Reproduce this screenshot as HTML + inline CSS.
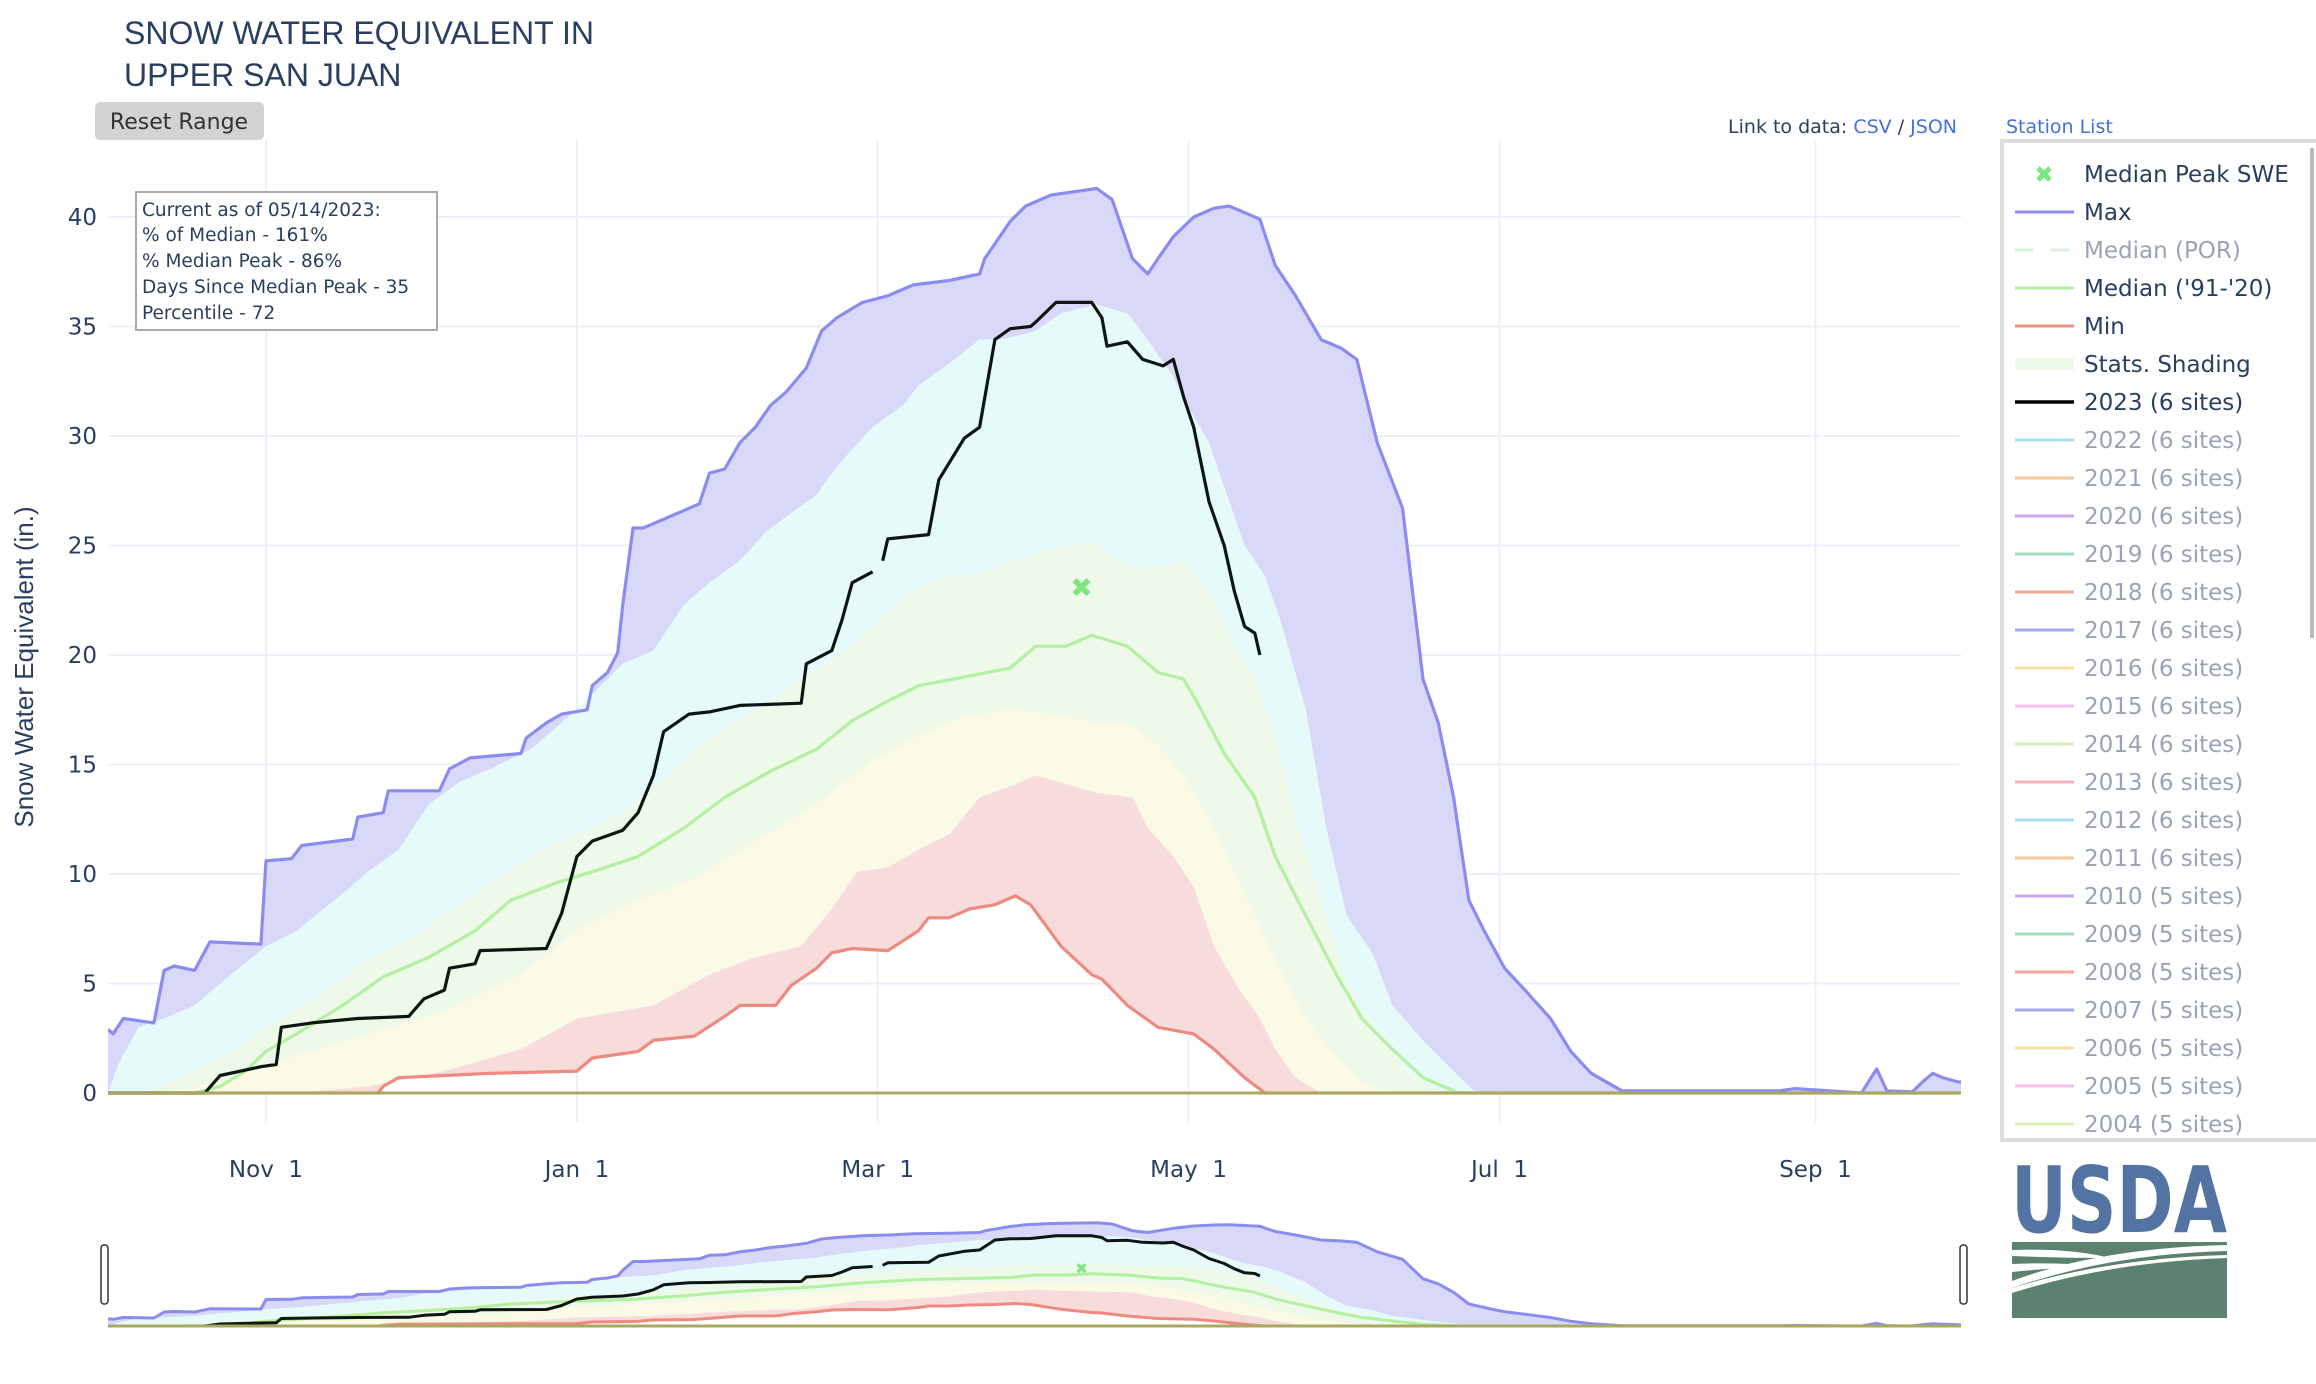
<!DOCTYPE html>
<html><head><meta charset="utf-8"><title>Snow Water Equivalent - Upper San Juan</title>
<style>
html,body{margin:0;padding:0;background:#fff;}
svg{display:block;}
text{font-family:"DejaVu Sans","Liberation Sans",sans-serif;}
.tl{font-family:"Liberation Sans",sans-serif;}
</style></head>
<body>
<svg id="chart" xmlns="http://www.w3.org/2000/svg" width="2316" height="1384" viewBox="0 0 2316 1384">
<defs><clipPath id="plotclip"><rect x="108" y="130" width="1853" height="1220"/></clipPath></defs>
<rect x="0" y="0" width="2316" height="1384" fill="#fff"/>
<text class="tl" x="124" y="44" font-size="32" fill="#2a3f5f">SNOW WATER EQUIVALENT IN</text>
<text class="tl" x="124" y="86" font-size="32" fill="#2a3f5f">UPPER SAN JUAN</text>
<g>
<rect x="95" y="102" width="169" height="38" rx="5" fill="#d3d3d3"/>
<text x="179" y="129" font-size="22" fill="#333" text-anchor="middle">Reset Range</text>
</g>
<text x="1957" y="133" font-size="19" text-anchor="end" fill="#2a3f5f">Link to data: <tspan fill="#4472d6">CSV</tspan> / <tspan fill="#4472d6">JSON</tspan></text>
<text x="2006" y="133" font-size="19" fill="#4472d6">Station List</text>
<g id="grid"></g>
<g clip-path="url(#plotclip)">
<g id="bands"></g>
<g id="lines"></g>
</g>
<g id="axes"></g>
<g id="slider"></g>
<text class="tl" transform="translate(33,667) rotate(-90)" font-size="26" fill="#2a3f5f" text-anchor="middle">Snow Water Equivalent (in.)</text>
<g>
<rect x="136" y="192" width="301" height="138" fill="#fff" stroke="#aaa" stroke-width="2"/>
<text x="142" y="216" font-size="18.5" fill="#2a3f5f">Current as of 05/14/2023:</text>
<text x="142" y="241" font-size="18.5" fill="#2a3f5f">% of Median - 161%</text>
<text x="142" y="267" font-size="18.5" fill="#2a3f5f">% Median Peak - 86%</text>
<text x="142" y="293" font-size="18.5" fill="#2a3f5f">Days Since Median Peak - 35</text>
<text x="142" y="319" font-size="18.5" fill="#2a3f5f">Percentile - 72</text>
</g>
<g id="legend">
<rect x="2002" y="141" width="320" height="999" fill="#fff" stroke="#ddd" stroke-width="4"/>
<rect x="2310" y="148" width="4" height="490" fill="#bbb"/>
</g>
<g>
<text x="2011" y="1232" font-family="Liberation Serif,serif" font-weight="bold" font-size="92" fill="#5373a3" textLength="216" lengthAdjust="spacingAndGlyphs">USDA</text>
<rect x="2012" y="1242" width="215" height="76" fill="#5b826e"/>
<path d="M2012,1250 Q2070,1248 2110,1258 Q2060,1258 2012,1256 Z" fill="#fff"/>
<path d="M2012,1264 Q2060,1262 2090,1266 Q2050,1268 2012,1272 Z" fill="#fff"/>
<path d="M2012,1281 Q2100,1248 2227,1245 L2227,1251 Q2110,1254 2012,1288 Z" fill="#fff"/>
<path d="M2012,1288 Q2110,1258 2227,1255 L2227,1258 Q2110,1262 2012,1293 Z" fill="#fff"/>
</g>
</svg>
<script>
// ---- data (day index from Oct 1, value inches) ----
const maxSeries = [[0,2.9],[1,2.7],[3,3.4],[9,3.2],[11,5.6],[13,5.8],[17,5.6],[20,6.9],[30,6.8],[31,10.6],[36,10.7],[38,11.3],[48,11.6],[49,12.6],[54,12.8],[55,13.8],[65,13.8],[67,14.8],[71,15.3],[81,15.5],[82,16.2],[86,16.9],[89,17.3],[94,17.5],[95,18.6],[98,19.2],[100,20.1],[101,22.3],[103,25.8],[105,25.8],[116,26.9],[118,28.3],[121,28.5],[124,29.7],[127,30.4],[130,31.4],[133,32],[137,33.1],[140,34.8],[143,35.4],[148,36.1],[153,36.4],[158,36.9],[165,37.1],[171,37.4],[172,38.1],[177,39.8],[180,40.5],[185,41.0],[194,41.3],[197,40.8],[201,38.1],[204,37.4],[206,38.1],[209,39.1],[213,40],[217,40.4],[220,40.5],[223,40.2],[226,39.9],[229,37.8],[233,36.4],[238,34.4],[242,34.0],[245,33.5],[249,29.7],[254,26.7],[258,18.9],[261,16.9],[264,13.5],[267,8.8],[270,7.4],[274,5.7],[278,4.7],[283,3.4],[287,1.9],[291,0.9],[297,0.1],[328,0.1],[331,0.2],[344,0],[347,1.1],[349,0.1],[354,0.05],[356,0.5],[358,0.9],[360,0.7],[363,0.5],[365,0.5]];
const p90Series = [[0,0],[2,1.3],[6,3.0],[11,3.4],[17,4],[22,5],[31,6.7],[37,7.4],[46,9.1],[51,10.1],[57,11.1],[63,13.2],[69,14.2],[75,14.8],[83,15.7],[89,16.9],[95,18.2],[101,19.6],[107,20.2],[113,22.3],[118,23.3],[124,24.3],[129,25.6],[133,26.3],[139,27.3],[142,28.3],[146,29.4],[150,30.4],[153,30.9],[156,31.4],[159,32.3],[165,33.3],[171,34.4],[175,34.4],[179,34.6],[182,34.8],[187,35.6],[194,36],[200,35.6],[203,34.7],[206,33.7],[209,32.7],[211,31.7],[216,29.7],[220,27],[223,25],[227,23.6],[230,21.6],[235,17.5],[239,12.1],[243,8.1],[248,6.4],[252,4],[258,2.4],[264,1.0],[268,0.1],[270,0],[365,0]];
const p70Series = [[0,0],[8,0.1],[17,1],[25,2],[34,3.4],[43,4.7],[51,6.1],[60,7.1],[66,8.1],[75,9.6],[83,10.8],[92,11.8],[101,12.8],[110,14.5],[118,16.2],[127,17.5],[136,18.9],[145,20.2],[150,21.3],[159,23.1],[165,23.6],[171,23.7],[179,24.4],[188,25],[194,25.1],[200,24],[206,24],[211,24.3],[216,22.9],[220,20.9],[225,18.9],[229,16.2],[233,12.5],[238,8.8],[243,5.1],[249,2.7],[255,1],[261,0.1],[264,0],[365,0]];
const p50Series = [[0,0],[14,0.1],[22,0.5],[37,1.7],[51,2.7],[66,3.7],[81,5.4],[92,7.4],[104,8.8],[115,9.8],[127,11.5],[139,13.2],[150,15.2],[159,16.3],[168,17.2],[177,17.5],[185,17.3],[194,16.9],[200,16.9],[206,15.9],[211,14.5],[217,12.1],[223,9.1],[229,6.1],[235,3.4],[241,1.7],[246,0.5],[252,0],[365,0]];
const p30Series = [[0,0],[37,0],[51,0.3],[66,1],[81,2],[92,3.4],[107,4],[118,5.4],[127,6.2],[136,6.7],[142,8.4],[147,10.1],[153,10.3],[159,11.1],[165,11.8],[171,13.5],[177,14],[182,14.5],[188,14.1],[194,13.7],[201,13.5],[204,12.1],[209,10.8],[213,9.4],[217,6.7],[222,4.7],[226,3.4],[229,2],[233,0.7],[238,0],[365,0]];
const minSeries = [[0,0],[53,0],[54,0.3],[57,0.7],[66,0.8],[75,0.9],[92,1.0],[95,1.6],[104,1.9],[107,2.4],[115,2.6],[121,3.5],[124,4.0],[131,4.0],[134,4.9],[139,5.7],[142,6.4],[146,6.6],[153,6.5],[159,7.4],[161,8.0],[165,8.0],[169,8.4],[174,8.6],[178,9.0],[181,8.6],[187,6.7],[193,5.4],[195,5.2],[200,4.0],[206,3.0],[213,2.7],[217,2.0],[223,0.7],[227,0],[365,0]];
const medianSeries = [[0,0],[17,0],[22,0.3],[27,1.0],[31,1.9],[37,2.7],[46,4],[54,5.3],[63,6.2],[72,7.4],[79,8.8],[88,9.6],[95,10.1],[104,10.8],[113,12.1],[121,13.5],[130,14.7],[139,15.7],[146,17],[153,17.9],[159,18.6],[168,19],[177,19.4],[182,20.4],[188,20.4],[193,20.9],[200,20.4],[206,19.2],[211,18.9],[214,17.7],[219,15.5],[225,13.5],[229,10.8],[235,8.1],[241,5.4],[246,3.4],[252,2.0],[258,0.7],[265,0],[365,0]];
const wy2023Series = [[0,0],[19,0],[22,0.8],[30,1.2],[33,1.3],[34,3.0],[40,3.2],[49,3.4],[59,3.5],[62,4.3],[66,4.7],[67,5.7],[72,5.9],[73,6.5],[86,6.6],[89,8.2],[92,10.8],[95,11.5],[101,12],[104,12.8],[107,14.5],[109,16.5],[114,17.3],[118,17.4],[124,17.7],[136,17.8],[137,19.6],[142,20.2],[144,21.6],[146,23.3],[150,23.8],null,[152,24.3],[153,25.3],[161,25.5],[163,28],[168,29.9],[171,30.4],[174,34.4],[177,34.9],[181,35],[182,35.2],[186,36.1],[193,36.1],[195,35.4],[196,34.1],[200,34.3],[203,33.5],[207,33.2],[209,33.5],[211,31.8],[213,30.4],[216,27],[219,25],[221,22.9],[223,21.3],[225,21],[226,20]];
const medianPeak = [191, 23.1];
const yTicks = [0,5,10,15,20,25,30,35,40];
const xTickDays = [31,92,151,212,273,335];
const xTickLabels = ["Nov  1","Jan  1","Mar  1","May  1","Jul  1","Sep  1"];
const legendNames = ["Median Peak SWE","Max","Median (POR)","Median ('91-'20)","Min","Stats. Shading","2023 (6 sites)","2022 (6 sites)","2021 (6 sites)","2020 (6 sites)","2019 (6 sites)","2018 (6 sites)","2017 (6 sites)","2016 (6 sites)","2015 (6 sites)","2014 (6 sites)","2013 (6 sites)","2012 (6 sites)","2011 (6 sites)","2010 (5 sites)","2009 (5 sites)","2008 (5 sites)","2007 (5 sites)","2006 (5 sites)","2005 (5 sites)","2004 (5 sites)"];
const legendColors = ["#7ee67e","#8c8cf0","#d6f3d6","#b5f0a5","#ee9088","#eef9e9","#000000","#a8e0f0","#f6c8a0","#c8a8f0","#a0dcc0","#f0a898","#a8a8f0","#f8e0a0","#f8c0f0","#d8f0b8","#f8b0c0","#a8e0f0","#f6c8a0","#c8a8f0","#a0dcc0","#f0a898","#a8a8f0","#f8e0a0","#f8c0f0","#d8f0b8"];
const legendActive = [1,1,0,1,1,1,1,0,0,0,0,0,0,0,0,0,0,0,0,0,0,0,0,0,0,0];

// ---- axes ----
const NS="http://www.w3.org/2000/svg";
const X0=108, X1=1961, PXD=5.097;
const X = d => X0 + d*PXD;
const Y = v => 1093 - v*21.9;
const YS = v => 1326 - v*2.5;
function mk(tag, attrs, parent){const e=document.createElementNS(NS,tag);for(const k in attrs)e.setAttribute(k,attrs[k]);parent.appendChild(e);return e;}
function pathD(series, yf){let d="",pen=false;for(const p of series){if(!p){pen=false;continue;}d+=(pen?"L":"M")+X(p[0]).toFixed(1)+","+yf(p[1]).toFixed(1);pen=true;}return d;}
function interp(series,day){for(let i=1;i<series.length;i++){const a=series[i-1],b=series[i];if(day<=b[0]){const t=(b[0]===a[0])?0:(day-a[0])/(b[0]-a[0]);return a[1]+t*(b[1]-a[1]);}}return series[series.length-1][1];}
function bandD(upper, lower, yf){
  const days=[...new Set(upper.map(p=>p[0]).concat(lower.map(p=>p[0])))].sort((a,b)=>a-b);
  let d="";days.forEach((dd,i)=>{d+=(i?"L":"M")+X(dd).toFixed(1)+","+yf(interp(upper,dd)).toFixed(1);});
  for(let i=days.length-1;i>=0;i--){d+="L"+X(days[i]).toFixed(1)+","+yf(interp(lower,days[i])).toFixed(1);}
  return d+"Z";
}
const grid=document.getElementById('grid');
for(const v of yTicks){
  const l=mk('line',{x1:X0,x2:X1,y1:Y(v),y2:Y(v),stroke:v===0?'#e3e8f0':'#ebf0f8','stroke-width':v===0?3:2},grid);
  
  
}
for(const d of xTickDays){
  const l=mk('line',{x1:X(d),x2:X(d),y1:140,y2:1122,stroke:'#ebf0f8','stroke-width':2},grid);
  
  
}
const axes=document.getElementById('axes');
yTicks.forEach(v=>{
  const t=mk('text',{x:97,y:Y(v)+8,'font-size':23,fill:'#2a3f5f','text-anchor':'end'},axes);
  t.textContent=String(v);
  
  
});
xTickDays.forEach((d,i)=>{
  const t=mk('text',{x:X(d),y:1177,'font-size':23,fill:'#2a3f5f','text-anchor':'middle',style:'white-space:pre'},axes);
  t.textContent=xTickLabels[i];
  
  
});

function drawAll(gBands,gLines,yf,lw,mSize){
  const bands=[[maxSeries,p90Series,'#d8d8f8','band-max-p90'],[p90Series,p70Series,'#e6fafa','band-p90-p70'],[p70Series,p50Series,'#eef9e9','band-p70-p50'],[p50Series,p30Series,'#fafae6','band-p50-p30'],[p30Series,minSeries,'#f8dcdc','band-p30-min']];
  for(const b of bands){
    const p=mk('path',{d:bandD(b[0],b[1],yf),fill:b[2],stroke:'none'},gBands);
    
    
  }
  const lines=[[minSeries,'#ee8a80','min-line'],[medianSeries,'#b2f0a2','median-line'],[maxSeries,'#8c8cf0','max-line'],[wy2023Series,'#0e1612','wy2023-line']];
  for(const l of lines){
    const p=mk('path',{d:pathD(l[0],yf),fill:'none',stroke:l[1],'stroke-width':lw,'stroke-linejoin':'round'},gLines);
    
    
  }
  const mx=X(medianPeak[0]),my=yf(medianPeak[1]);
  const m=mk('path',{d:`M${mx-mSize},${my-mSize}L${mx+mSize},${my+mSize}M${mx+mSize},${my-mSize}L${mx-mSize},${my+mSize}`,stroke:'#7ee67e','stroke-width':mSize*0.8,fill:'none'},gLines);
  
  
}
drawAll(document.getElementById('bands'),document.getElementById('lines'),Y,3.2,7);

const base=mk('line',{x1:X0,x2:X1,y1:Y(0),y2:Y(0),stroke:'#a8a860','stroke-width':3},document.getElementById('lines'));



// range slider
const sl=document.getElementById('slider');
const sg=mk('g',{'clip-path':'url(#plotclip)'},sl);
const sb=mk('g',{},sg), sLn=mk('g',{},sg);




drawAll(sb,sLn,YS,3,4);
const sbase=mk('line',{x1:X0,x2:X1,y1:YS(0),y2:YS(0),stroke:'#a8a860','stroke-width':3},sl);


[X0-4,X1+2].forEach((hx,i)=>{
  const h=mk('rect',{x:hx-3,y:1245,width:7,height:59,rx:3,fill:'#fff',stroke:'#333','stroke-width':1.5},sl);
  
  
});

// legend
const lg=document.getElementById('legend');
legendNames.forEach((name,i)=>{
  const cy=174+i*38;
  const g=mk('g',{},lg);
  
  
  const c=legendColors[i];
  if(i===0){
    mk('path',{d:`M${2038},${cy-6}L${2050},${cy+6}M${2050},${cy-6}L${2038},${cy+6}`,stroke:c,'stroke-width':5},g);
  }else if(i===2){
    mk('line',{x1:2015,x2:2074,y1:cy,y2:cy,stroke:c,'stroke-width':3,'stroke-dasharray':'18,18'},g);
  }else if(i===5){
    mk('rect',{x:2015,y:cy-6,width:59,height:12,fill:c},g);
  }else{
    mk('line',{x1:2015,x2:2074,y1:cy,y2:cy,stroke:c,'stroke-width':i===6?3.5:3},g);
  }
  const t=mk('text',{x:2084,y:cy+8,'font-size':23,fill:legendActive[i]?'#2a3f5f':'#9aa3b5'},g);
  t.textContent=name;
});
</script>
</body></html>
